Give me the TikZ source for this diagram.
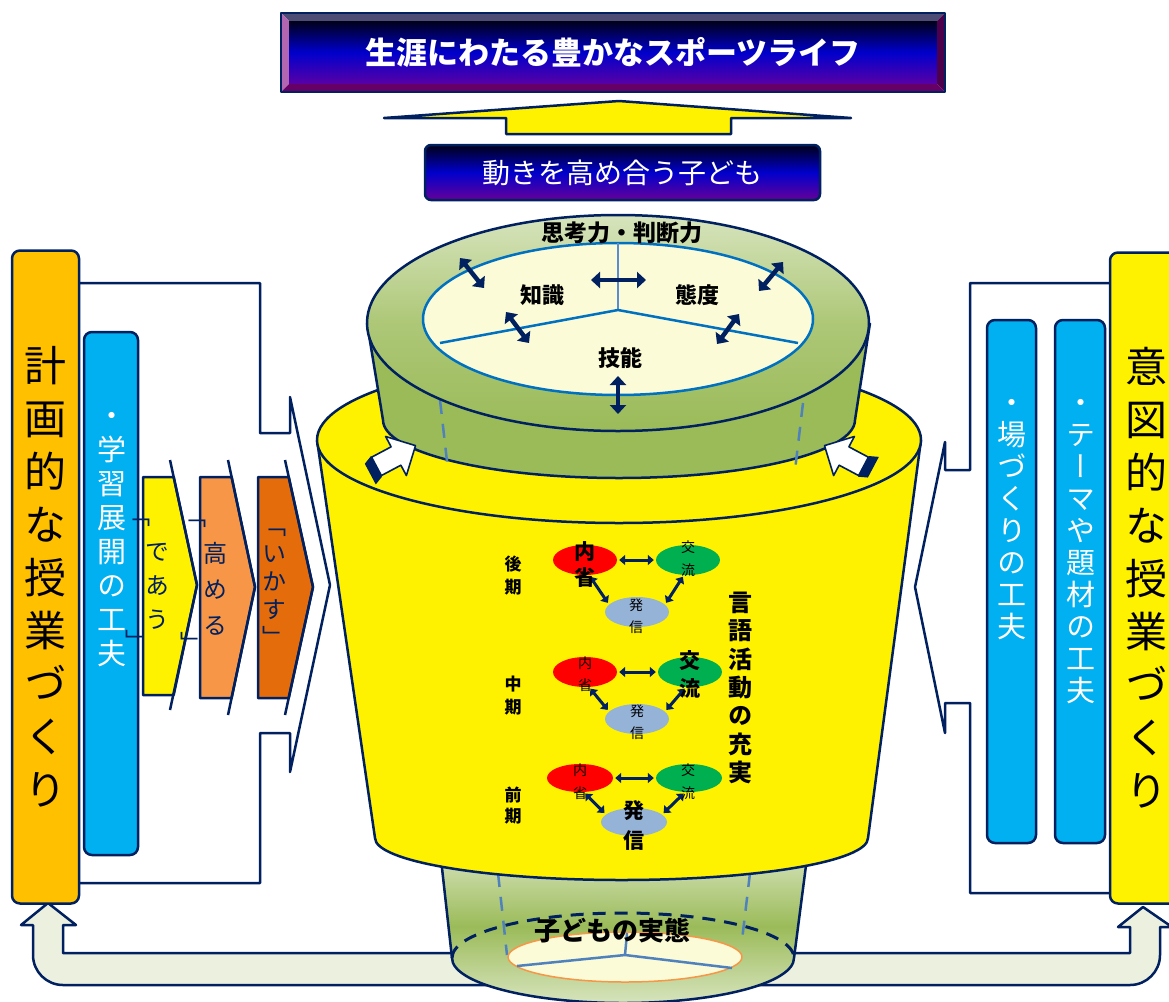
\documentclass[tikz,border=0pt]{standalone}
\usepackage{fontspec}
\setmainfont{Noto Sans CJK JP}
\newfontfamily\jp{Noto Sans CJK JP}
\newfontfamily\jpv[RawFeature=+vert]{Noto Sans CJK JP}
\usetikzlibrary{arrows.meta,shapes.geometric}
\definecolor{navy}{HTML}{002060}
\definecolor{olive}{HTML}{9BBB59}
\definecolor{olivelt}{HTML}{D7E4BD}
\definecolor{cream}{HTML}{FBFBD7}
\definecolor{bandC}{HTML}{EBF1DE}
\definecolor{orangeC}{HTML}{FFC000}
\definecolor{blueC}{HTML}{00B0F0}
\definecolor{chevB}{HTML}{F79646}
\definecolor{chevC}{HTML}{E46C0A}
\definecolor{ellR}{HTML}{FF0000}
\definecolor{ellG}{HTML}{00B050}
\definecolor{ellB}{HTML}{95B3D7}
\definecolor{divB}{HTML}{0070C0}
\definecolor{divL}{HTML}{5B8BD0}
\definecolor{dashB}{HTML}{4F81BD}
\tikzset{
  outl/.style={draw=navy, line width=2.5pt},
  rbox/.style={draw=navy, line width=2.5pt, rounded corners=8pt, align=center, inner sep=0pt},
  vstack/.style={align=center, inner sep=0pt},
  bigdarr/.style={draw=navy, line width=4.5pt, >={Triangle[length=9pt,width=16pt]}, <->},
  smalldarr/.style={draw=navy, line width=3pt, >={Triangle[length=6pt,width=10pt]}, <->, shorten <=2pt, shorten >=2pt},
  ell/.style={ellipse, draw=none, inner sep=0pt},
  chevtext/.style={vstack, text=navy, font=\jpv\fontsize{24}{34}\selectfont},
  boldlbl/.style={inner sep=0pt, font=\jp\fontsize{22}{26}\selectfont\bfseries},
  brk/.style={inner sep=0pt, text=navy, font=\jpv\fontsize{24}{24}\selectfont},
}
\begin{document}
\begin{tikzpicture}[x=1pt,y=-1pt,line join=round]
\useasboundingbox (0,0) rectangle (1169,1001);
\clip (0,0) rectangle (1169,1001);

% ---- loop band at the bottom
\draw[outl, fill=bandC] (48,903) -- (76,925) -- (63,925) -- (63,953) -- (1130,953) -- (1130,927) -- (1118,927) -- (1143,907) -- (1172,927) -- (1160,927) -- (1160,955) arc[start angle=0,end angle=90,radius=30] -- (63,985) arc[start angle=90,end angle=180,radius=30] -- (33,925) -- (21,925) -- cycle;

% ---- white bracket shapes
\draw[outl, fill=white] (79,283) -- (260,283) -- (260,433) -- (290,433) -- (290,397) -- (330,585) -- (290,772) -- (290,733) -- (260,733) -- (260,883) -- (79,883);
\draw[outl, fill=white] (1110,283) -- (970,283) -- (970,470) -- (945,470) -- (945,442) -- (915,587) -- (945,733) -- (945,703) -- (970,703) -- (970,893) -- (1110,893);

% ---- side boxes
\node[rbox, fill=orangeC, minimum width=67pt, minimum height=653pt, font=\jpv\fontsize{42}{53}\selectfont] (plan) at (45.5,577) {計\\画\\的\\な\\授\\業\\づ\\く\\り};
\node[rbox, fill=yellow, minimum width=72pt, minimum height=651pt, font=\jpv\fontsize{42}{53}\selectfont] (intent) at (1146,578) {意\\図\\的\\な\\授\\業\\づ\\く\\り};

\node[rbox, fill=blueC, minimum width=54pt, minimum height=523pt] (flowbox) at (111,593.5) {};
\node[vstack, text=white, font=\jpv\fontsize{29}{34}\selectfont] (flowtxt) at (112,540) {・\\学\\習\\展\\開\\の\\工\\夫};
\node[rbox, fill=blueC, minimum width=49pt, minimum height=523pt] (placebox) at (1011.5,581.5) {};
\node[vstack, text=white, font=\jpv\fontsize{29}{32}\selectfont] (placetxt) at (1012,520) {・\\場\\づ\\く\\り\\の\\工\\夫};
\node[rbox, fill=blueC, minimum width=50pt, minimum height=523pt] (themebox) at (1080,581.5) {};
\node[vstack, text=white, font=\jpv\fontsize{29}{32}\selectfont] (themetxt) at (1081,552) {・\\テ\\ー\\マ\\や\\題\\材\\の\\工\\夫};

% ---- chevrons
\draw[outl, fill=yellow] (143,477) -- (173.7,477) -- (197,585) -- (173.7,695) -- (143,695) -- cycle;
\draw[outl] (170,460) -- (197,585) -- (170,710);
\draw[outl, fill=chevB] (200,477) -- (231.6,477) -- (255,587) -- (231.6,698) -- (200,698) -- cycle;
\draw[outl] (228,460) -- (255,587) -- (228,715);
\draw[outl, fill=chevC] (258,477) -- (288.7,477) -- (313,587) -- (288.7,698) -- (258,698) -- cycle;
\draw[outl] (285,460) -- (313,587) -- (285,715);
\node[chevtext] (meet) at (157,586) {で\\あ\\う};
\node[chevtext, font=\jpv\fontsize{24}{36}\selectfont] (raise) at (215,589) {高\\め\\る};
\node[chevtext, font=\jpv\fontsize{24}{28}\selectfont] (use) at (274,588) {「\\い\\か\\す\\」};
\node[brk] (qa1) at (138,523) {「};
\node[brk] (qa2) at (137,640) {」};
\node[brk] (qb1) at (194,524) {「};
\node[brk] (qb2) at (192,642) {」};

% ---- bottom green cylinder
\draw[outl, top color=olivelt, bottom color=olivelt, middle color=olive] (440,850) -- (452,958) arc[start angle=180,end angle=0,x radius=171,y radius=45] -- (808,850) -- cycle;
\draw[navy, line width=3pt, dash pattern=on 13pt off 9pt] (452,958) arc[start angle=180,end angle=360,x radius=171,y radius=45];
\draw[dashB, line width=2.5pt, dash pattern=on 14pt off 10pt] (498,873) -- (507,955);
\draw[dashB, line width=2.5pt, dash pattern=on 14pt off 10pt] (750,873) -- (742,940);
\draw[draw=chevB, line width=1.5pt, fill=cream] (625,957) ellipse[x radius=117, y radius=25];
\coordinate (bc) at (625,955);
\draw[dashB, line width=2.5pt] (bc) -- (627,933) (bc) -- (517,966) (bc) -- (732,968);
\node[boldlbl, font=\jp\fontsize{26}{30}\selectfont\bfseries] (actual) at (612,931) {子どもの実態};

% ---- yellow cup
\draw[outl, fill=yellow] (317,440) -- (375,838) arc[start angle=180,end angle=0,x radius=246.5,y radius=42] -- (921,440);
\draw[outl, fill=yellow] (619,440) ellipse[x radius=302, y radius=83];

% ---- top green cylinder
\draw[outl, fill=olive] (367,323) -- (383,420) arc[start angle=180,end angle=0,x radius=236,y radius=58] -- (870,323);
\draw[dashB, line width=2.5pt, dash pattern=on 14pt off 10pt] (440,400) -- (448,470);
\draw[dashB, line width=2.5pt, dash pattern=on 14pt off 10pt] (803,403) -- (795,470);
\draw[outl, top color=olivelt, bottom color=olive, middle color=olive!70!olivelt] (618,323) ellipse[x radius=251, y radius=108];
\draw[draw=divB, line width=2.5pt, fill=cream] (618,319) ellipse[x radius=195, y radius=76];
\coordinate (tc) at (618,310);
\draw[divL, line width=2.5pt] (tc) -- (618,243);
\draw[divB, line width=2.5pt] (tc) -- (440,343) (tc) -- (798,343);

\node[boldlbl, font=\jp\fontsize{23}{26}\selectfont\bfseries] (think) at (622,233) {思考力・判断力};
\node[boldlbl] (know) at (542,295) {知識};
\node[boldlbl] (attitude) at (697,295) {態度};
\node[boldlbl] (skill) at (620,358) {技能};

\coordinate (a1s) at (460,258); \coordinate (a1e) at (484,288);
\coordinate (a2s) at (591,280); \coordinate (a2e) at (646,280);
\coordinate (a3s) at (783,262); \coordinate (a3e) at (759,291);
\coordinate (a4s) at (506,312); \coordinate (a4e) at (529,343);
\coordinate (a5s) at (739,314); \coordinate (a5e) at (717,344);
\coordinate (a6s) at (618,376); \coordinate (a6e) at (618,414);
\draw[bigdarr] (a1s) -- (a1e);
\draw[bigdarr] (a2s) -- (a2e);
\draw[bigdarr] (a3s) -- (a3e);
\draw[bigdarr] (a4s) -- (a4e);
\draw[bigdarr] (a5s) -- (a5e);
\draw[bigdarr, line width=3.5pt] (a6s) -- (a6e);

% ---- white 3D arrows
\begin{scope}[shift={(396,456)}, rotate=28, scale=1.3]
  \fill[navy] (-17,-9) -- (-17,9) -- (-24,12) -- (-24,-6) -- cycle;
  \draw[navy, line width=1.6pt, fill=white] (17,0) -- (0,17) -- (0,8) -- (-17,8) -- (-17,-8) -- (0,-8) -- (0,-17) -- cycle;
\end{scope}
\begin{scope}[shift={(844,456)}, rotate=152, scale=1.3]
  \fill[navy] (-17,-9) -- (-17,9) -- (-24,12) -- (-24,-6) -- cycle;
  \draw[navy, line width=1.6pt, fill=white] (17,0) -- (0,17) -- (0,8) -- (-17,8) -- (-17,-8) -- (0,-8) -- (0,-17) -- cycle;
\end{scope}

% ---- language activity diagram
\node[ell, fill=ellR, minimum width=64pt, minimum height=30pt] (r1) at (585,560) {};
\node[ell, fill=ellG, minimum width=64pt, minimum height=30pt] (g1) at (688,560) {};
\node[ell, fill=ellB, minimum width=64pt, minimum height=30pt] (b1) at (637,612) {};
\node[ell, fill=ellR, minimum width=64pt, minimum height=30pt] (r2) at (585,672) {};
\node[ell, fill=ellG, minimum width=64pt, minimum height=30pt] (g2) at (690,672) {};
\node[ell, fill=ellB, minimum width=64pt, minimum height=30pt] (b2) at (637,719) {};
\node[ell, fill=ellR, minimum width=66pt, minimum height=28pt] (r3) at (580,778) {};
\node[ell, fill=ellG, minimum width=66pt, minimum height=28pt] (g3) at (689,778) {};
\node[ell, fill=ellB, minimum width=66pt, minimum height=28pt] (b3) at (634,822) {};

\foreach \r/\g/\b in {r1/g1/b1, r2/g2/b2, r3/g3/b3} {
  \draw[smalldarr] (\r.east) -- (\g.west);
  \draw[smalldarr] (\r.-75) -- (\b.165);
  \draw[smalldarr] (\g.-105) -- (\b.15);
}

\node[vstack, font=\jpv\fontsize{21}{26}\selectfont\bfseries] (t1r) at (585,565) {内\\省};
\node[vstack, font=\jpv\fontsize{14}{23}\selectfont] (t1g) at (688,558.5) {交\\流};
\node[vstack, font=\jpv\fontsize{14}{22}\selectfont] (t1b) at (636,616) {発\\信};
\node[vstack, font=\jpv\fontsize{14}{22}\selectfont] (t2r) at (585,674) {内\\省};
\node[vstack, font=\jpv\fontsize{21}{28}\selectfont\bfseries] (t2g) at (690,674) {交\\流};
\node[vstack, font=\jpv\fontsize{14}{22}\selectfont] (t2b) at (637,722.5) {発\\信};
\node[vstack, font=\jpv\fontsize{14}{23}\selectfont] (t3r) at (580,781.5) {内\\省};
\node[vstack, font=\jpv\fontsize{14}{23}\selectfont] (t3g) at (688,781.5) {交\\流};
\node[vstack, font=\jpv\fontsize{21}{30}\selectfont\bfseries] (t3b) at (634,825) {発\\信};

\node[vstack, font=\jpv\fontsize{17}{23}\selectfont\bfseries] (late) at (513,576) {後\\期};
\node[vstack, font=\jpv\fontsize{17}{23}\selectfont\bfseries] (mid) at (513,696) {中\\期};
\node[vstack, font=\jpv\fontsize{17}{21}\selectfont\bfseries] (early) at (513,806) {前\\期};
\node[vstack, font=\jpv\fontsize{24}{28.3}\selectfont\bfseries] (lang) at (740,688) {言\\語\\活\\動\\の\\充\\実};

% ---- top banners and arrow
\node[inner sep=0pt, minimum width=648pt, minimum height=63pt, top color=black!90!blue, bottom color=violet!70!blue, middle color=blue!80!black, text=white, font=\jp\fontsize{31}{34}\selectfont\bfseries] (goal) at (613,52.5) {生涯にわたる豊かなスポーツライフ};
\fill[black!60!blue!40!gray] (281,13) -- (945,13) -- (goal.north east) -- (goal.north west) -- cycle;
\fill[violet!60!white] (281,13) -- (goal.north west) -- (goal.south west) -- (281,92) -- cycle;
\fill[violet!60!black] (945,13) -- (goal.north east) -- (goal.south east) -- (945,92) -- cycle;
\fill[violet!80!black] (281,92) -- (goal.south west) -- (goal.south east) -- (945,92) -- cycle;
\draw[navy, line width=2pt] (281,13) rectangle (945,92);

\draw[navy, line width=2.5pt, fill=yellow] (384,118) -- (619,101) -- (851,118) -- (731,118) -- (731,134) -- (506,134) -- (506,118) -- cycle;

\node[draw=navy, line width=2.5pt, rounded corners=6pt, inner sep=0pt, minimum width=395pt, minimum height=55pt, top color=black!90!blue, bottom color=violet!80!blue, middle color=blue!80!black, text=white, font=\jp\fontsize{28}{30}\selectfont] (kids) at (622.5,172.5) {動きを高め合う子ども};
\end{tikzpicture}
\end{document}
